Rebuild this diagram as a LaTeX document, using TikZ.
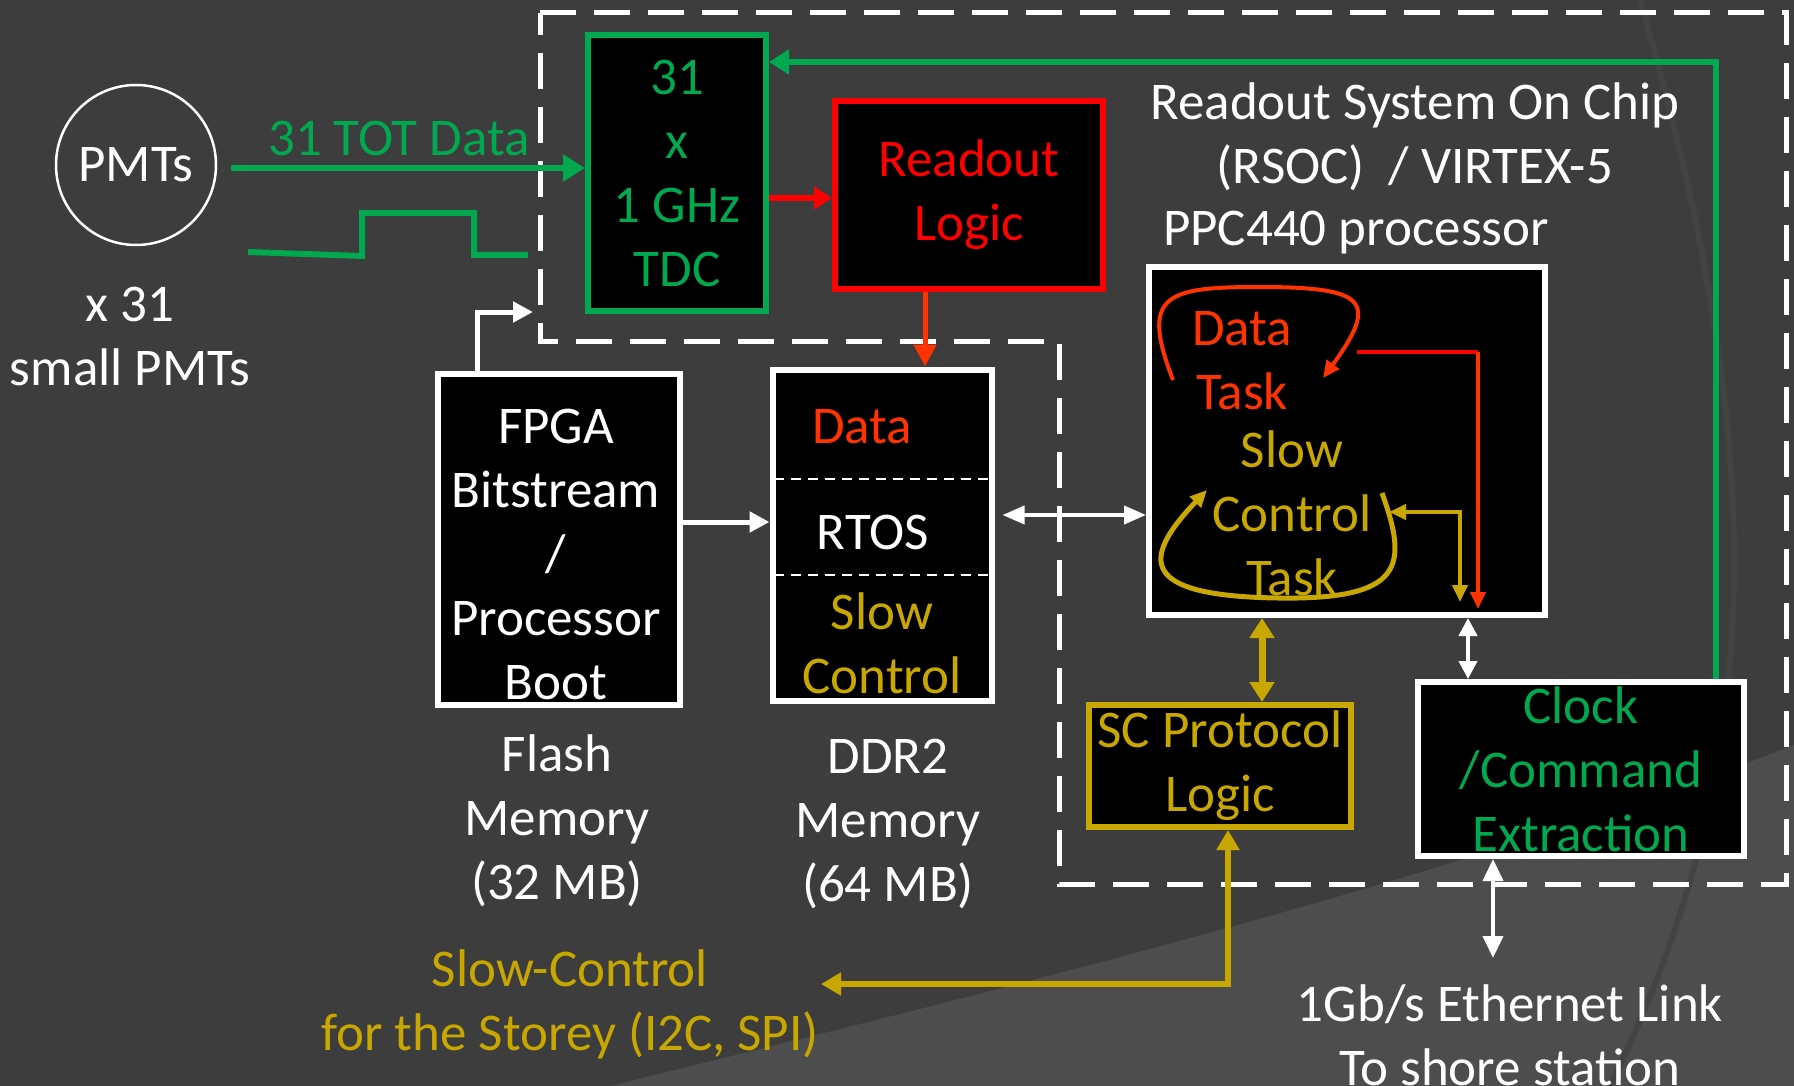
\documentclass[tikz,border=0pt]{standalone}
\usepackage{fontspec}
\setmainfont{Carlito}
\usetikzlibrary{arrows.meta}
\definecolor{bg}{HTML}{3D3D3D}
\definecolor{bgl}{HTML}{4D4D4D}
\definecolor{bgline}{HTML}{434343}
\definecolor{gr}{HTML}{00A84F}
\definecolor{rd}{HTML}{FF0000}
\definecolor{og}{HTML}{FF3300}
\definecolor{yl}{HTML}{C8A800}
\begin{document}
\begin{tikzpicture}[x=1pt,y=-1pt,
  box/.style={draw,fill=black,line width=6pt,inner sep=0pt},
  txt/.style={font=\fontsize{53}{64}\selectfont,align=center,inner sep=0pt},
  dashb/.style={draw=white,line width=5pt,dash pattern=on 36pt off 18pt},
  sepl/.style={draw=white,line width=2pt,dash pattern=on 10pt off 7pt},
  garr/.style={draw=gr,line width=6pt,-{Triangle[length=22pt,width=26pt]}},
  rarr/.style={draw=rd,line width=6pt,-{Triangle[length=18pt,width=22pt]}},
  oarr/.style={draw=og,line width=5pt,-{Triangle[length=22pt,width=22pt]}},
  thinr/.style={draw=og,line width=4pt,-{Triangle[length=17pt,width=15pt]}},
  thiny/.style={draw=yl,line width=4pt,{Triangle[length=17pt,width=15pt]}-{Triangle[length=17pt,width=15pt]}},
  wline/.style={draw=white,line width=5pt,-{Triangle[length=20pt,width=20pt]}},
  wdbl/.style={draw=white,line width=4pt,{Triangle[length=18pt,width=18pt]}-{Triangle[length=18pt,width=18pt]}},
  ydbl/.style={draw=yl,line width=7pt,{Triangle[length=20pt,width=24pt]}-{Triangle[length=20pt,width=24pt]}},
  ysc/.style={draw=yl,line width=6pt,{Triangle[length=20pt,width=22pt]}-{Triangle[length=20pt,width=22pt]}},
]
\useasboundingbox (0,0) rectangle (1794,1086);
% background
\fill[bg] (0,0) rectangle (1794,1086);
\fill[bgl] (610,1086) .. controls (1000,990) and (1450,880) .. (1794,745) -- (1794,1086) -- cycle;
\draw[bgline,line width=6pt] (1640,0) .. controls (1770,450) and (1770,760) .. (1610,1086);

% outer dashed boundary
\draw[dashb] (540,13) -- (1786,13) -- (1786,884) -- (1059,884) -- (1059,341) -- (540,341) -- cycle;

% boxes
\node[draw=white,line width=2.5pt,circle,minimum size=160pt,inner sep=0pt,txt,text=white] (pmt) at (136,165) {PMTs};
\node[box,draw=gr,minimum width=178pt,minimum height=275pt,txt,text=gr] (tdc) at (677,173) {31\\x\\1 GHz\\TDC};
\node[box,draw=rd,minimum width=268pt,minimum height=188pt,txt,text=rd] (rl) at (969,195) {Readout\\Logic};
\node[box,draw=white,minimum width=242pt,minimum height=331pt] (fpga) at (559,539) {};
\node[box,draw=white,minimum width=219pt,minimum height=331pt] (ddr) at (882,535) {};
\node[box,draw=white,minimum width=396pt,minimum height=348pt] (proc) at (1347,441) {};
\node[box,draw=yl,minimum width=262pt,minimum height=122pt,txt,text=yl] (sc) at (1220,766) {SC Protocol\\Logic};
\node[box,draw=white,minimum width=326pt,minimum height=174pt,txt,text=gr] (clk) at (1581,769) {Clock\\/Command\\Extraction};

% texts
\node[txt,text=gr] (totlbl) at (399,138) {31 TOT Data};
\node[txt,text=white] (x31) at (130,336) {x 31\\small PMTs};
\node[txt,text=white] (rsoc) at (1415,137) {Readout System On Chip\\(RSOC)~~/ VIRTEX-5};
\node[txt,text=white] (ppc) at (1356,233) {PPC440 processor};
\node[txt,text=white] (fpgat) at (556,554) {FPGA\\Bitstream\\/\\Processor\\Boot};
\node[txt,text=og] (ddrdata) at (862,427) {Data};
\node[txt,text=white] (rtos) at (873,532) {RTOS};
\node[txt,text=yl] (ddrsc) at (882,643) {Slow\\Control};
\node[txt,text=og] (dtask) at (1242,361) {Data\\Task};
\node[txt,text=yl] (sctask) at (1292,513) {Slow\\Control\\Task};
\node[txt,text=white] (flash) at (557,821) {Flash\\Memory\\(32 MB)};
\node[txt,text=white] (ddrl) at (888,824) {DDR2\\Memory\\(64 MB)};
\node[txt,text=yl] (sclbl) at (570,1004) {Slow-Control\\for the Storey (I2C, SPI)};
\node[txt,text=white] (eth) at (1510,1035) {1Gb/s Ethernet Link\\To shore station};

% DDR separators
\draw[sepl] ([xshift=4pt]ddr.west |- 0,479) -- ([xshift=-4pt]ddr.east |- 0,479);
\draw[sepl] ([xshift=4pt]ddr.west |- 0,575) -- ([xshift=-4pt]ddr.east |- 0,575);

% pulse
\draw[gr,line width=6pt] (248,252) -- (362,256) -- (362,213) -- (474,213) -- (474,255) -- (528,255);

% connectors
\coordinate (a1) at (231,168);
\draw[garr] (a1) -- (a1 -| tdc.west);
\coordinate (g1) at (1716,62);
\draw[garr,-{Triangle[length=20pt,width=24pt]}] (g1 |- clk.north) -- (g1) -- (g1 -| tdc.east);
\coordinate (r1) at (700,198);
\draw[rarr] (tdc.east |- r1) -- (rl.west |- r1);
\coordinate (rx) at (925,300);
\draw[oarr] (rx |- rl.south) -- (rx |- ddr.north);
\coordinate (fx) at (477,312);
\coordinate (w1) at (533,312);
\draw[wline] (fx |- fpga.north) -- (fx) -- (w1);
\coordinate (y1) at (700,522);
\draw[wline] (fpga.east |- y1) -- (ddr.west |- y1);
\coordinate (y2) at (1000,515);
\draw[wdbl,{Triangle[length=22pt,width=18pt]}-{Triangle[length=22pt,width=18pt]}] ([xshift=8pt]ddr.east |- y2) -- (proc.west |- y2);
\coordinate (x1) at (1262,650);
\draw[ydbl] (x1 |- proc.south) -- (x1 |- sc.north);
\coordinate (x2) at (1468,650);
\draw[wdbl] (x2 |- proc.south) -- (x2 |- clk.north);
\coordinate (s1) at (1228,984);
\coordinate (s2) at (821,984);
\draw[ysc] (s1 |- sc.south) -- (s1) -- (s2);
\coordinate (e1) at (1493,958);
\draw[wdbl,{Triangle[length=22pt,width=20pt]}-{Triangle[length=22pt,width=20pt]}] (e1 |- clk.south) -- (e1);

% internal loops in processor
\draw[thinr] (1173,380) .. controls (1140,295) and (1165,287) .. (1259,287) .. controls (1365,287) and (1380,300) .. (1323,378);
\draw[draw=rd,line width=4pt] (1357,352) -- (1478,352);
\draw[thinr] (1478,352) -- (1478,609);
\draw[draw=yl,line width=5pt,-{Triangle[length=17pt,width=15pt]}] (1382,493) .. controls (1408,565) and (1405,600) .. (1278,598) .. controls (1140,596) and (1140,560) .. (1207,490);
\draw[thiny] (1389,512) -- (1460,512) -- (1460,602);
\end{tikzpicture}
\end{document}
